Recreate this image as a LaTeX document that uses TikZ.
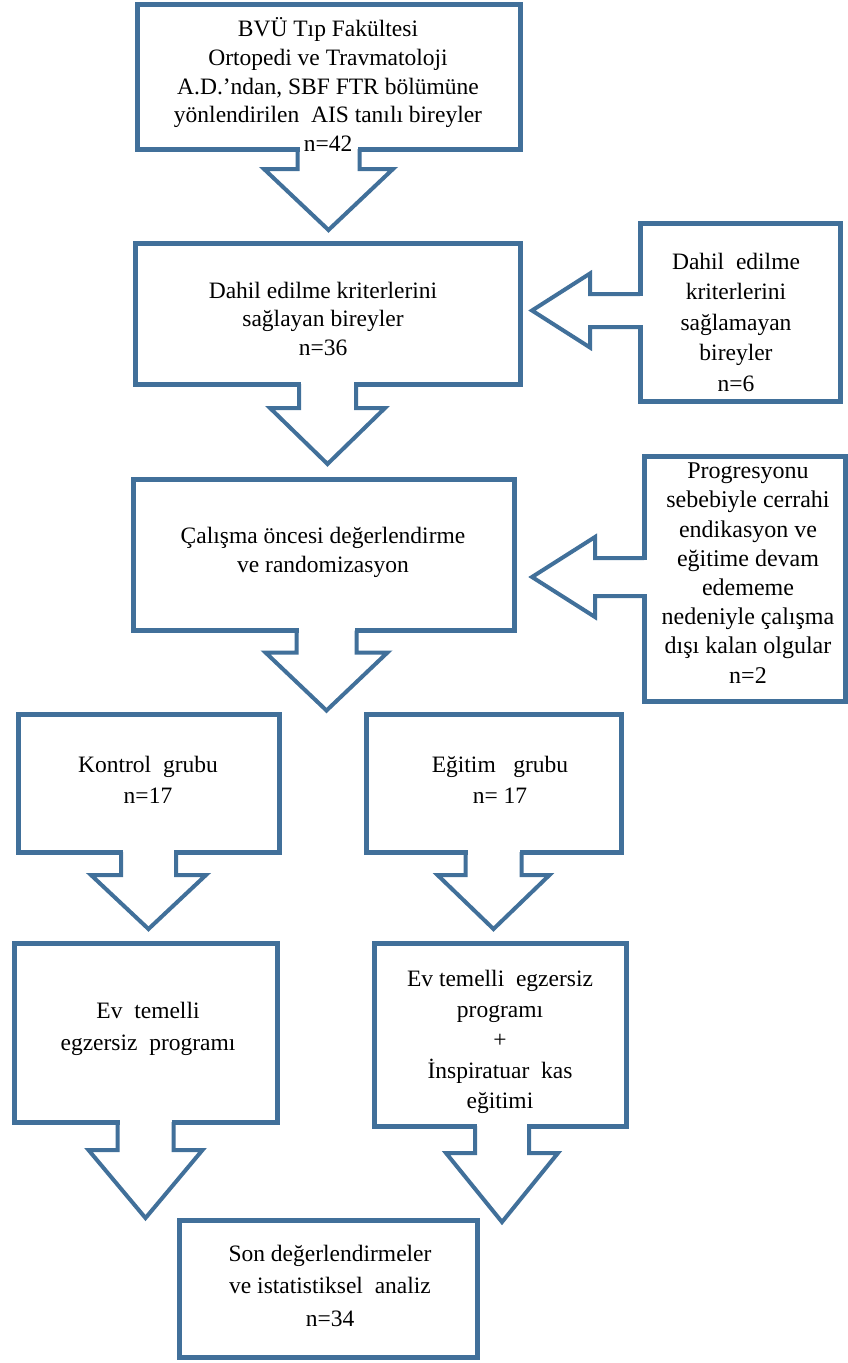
\documentclass[tikz,border=0pt]{standalone}
\usepackage{fontspec}
\setmainfont{Liberation Serif}
\usetikzlibrary{calc}
\definecolor{bcol}{RGB}{65,112,154}
\tikzset{
  boxshape/.style={draw=bcol, line width=5pt, rectangle, inner sep=0pt, outer sep=0pt},
  txt/.style={align=center, inner sep=0pt, font=\fontsize{23.5}{29}\selectfont},
  arr/.style={draw=bcol, line width=4pt, line join=miter},
}
% down block arrow: #1 node, #2 shaft half width, #3 head half width, #4 head top offset, #5 tip offset, #6 x shift
\newcommand\dnarr[6]{%
  \fill[white] ($(#1.south)+(#6-#2+2,-4)$) rectangle ($(#1.south)+(#6+#2-2,4)$);
  \draw[arr] ($(#1.south)+(#6-#2,0)$) -- ($(#1.south)+(#6-#2,#4)$) -- ($(#1.south)+(#6-#3,#4)$)
    -- ($(#1.south)+(#6,#5)$) -- ($(#1.south)+(#6+#3,#4)$) -- ($(#1.south)+(#6+#2,#4)$) -- ($(#1.south)+(#6+#2,0)$);
}
% left block arrow: #1 node, #2 shaft half width, #3 head half width, #4 head back offset, #5 tip offset, #6 y shift
\newcommand\ltarr[6]{%
  \fill[white] ($(#1.west)+(-4,#6-#2+2)$) rectangle ($(#1.west)+(4,#6+#2-2)$);
  \draw[arr] ($(#1.west)+(0,#6-#2)$) -- ($(#1.west)+(#4,#6-#2)$) -- ($(#1.west)+(#4,#6-#3)$)
    -- ($(#1.west)+(#5,#6)$) -- ($(#1.west)+(#4,#6+#3)$) -- ($(#1.west)+(#4,#6+#2)$) -- ($(#1.west)+(0,#6+#2)$);
}
\begin{document}
\begin{tikzpicture}[x=1pt,y=-1pt]
\useasboundingbox[fill=white] (0,0) rectangle (847,1363);
% boxes
\node[boxshape, minimum width=383pt, minimum height=145pt] (b1) at (328.5,76.5) {};
\node[boxshape, minimum width=385pt, minimum height=141pt] (b2) at (327.5,313.5) {};
\node[boxshape, minimum width=200pt, minimum height=178pt] (s1) at (740,312) {};
\node[boxshape, minimum width=381pt, minimum height=151pt] (b3) at (323.5,555) {};
\node[boxshape, minimum width=201pt, minimum height=245pt] (s2) at (744.5,578.5) {};
\node[boxshape, minimum width=261pt, minimum height=138pt] (k) at (148.5,783) {};
\node[boxshape, minimum width=255pt, minimum height=138pt] (e) at (493.5,783) {};
\node[boxshape, minimum width=263pt, minimum height=179pt] (p1) at (145.5,1032.5) {};
\node[boxshape, minimum width=252pt, minimum height=183pt] (p2) at (500,1034.5) {};
\node[boxshape, minimum width=298pt, minimum height=137pt] (f) at (328,1288.5) {};
% arrows
\dnarr{b1}{31}{64.5}{20}{81}{0}
\dnarr{b2}{28.5}{57.5}{24}{80}{0}
\dnarr{b3}{30}{61}{22}{80}{3}
\dnarr{k}{27.5}{57.5}{23}{77}{0}
\dnarr{e}{28}{56}{23}{77}{0}
\dnarr{p1}{28}{57}{28}{96}{0}
\dnarr{p2}{27}{56}{27}{96}{2}
\ltarr{s1}{16.5}{37}{-50}{-108}{-1.5}
\ltarr{s2}{19}{40}{-49}{-112}{-1.5}
% texts
\node[txt, font=\fontsize{23.5}{28.75}\selectfont] (t1) at (328,84.5) {BVÜ Tıp Fakültesi\\Ortopedi ve Travmatoloji\\A.D.’ndan, SBF FTR bölümüne\\yönlendirilen\ \ AIS tanılı bireyler\\n=42};
\node[txt, font=\fontsize{23.5}{28.5}\selectfont] (t2) at (323,318.5) {Dahil edilme kriterlerini\\sağlayan bireyler\\n=36};
\node[txt, font=\fontsize{23.5}{30.5}\selectfont] (ts1) at (736,322) {Dahil\ \ edilme\\kriterlerini\\sağlamayan\\bireyler\\n=6};
\node[txt] (t3) at (323,552.5) {Çalışma öncesi değerlendirme\\ve randomizasyon};
\node[txt, font=\fontsize{24}{29.2}\selectfont] (ts2) at (748,573) {Progresyonu\\sebebiyle cerrahi\\endikasyon ve\\eğitime devam\\edememe\\nedeniyle çalışma\\dışı kalan olgular\\n=2};
\node[txt, font=\fontsize{23.5}{31}\selectfont] (tk) at (148,779.5) {Kontrol\ \ grubu\\n=17};
\node[txt, font=\fontsize{23.5}{31}\selectfont] (te) at (500,779.5) {Eğitim\ \ \ grubu\\n= 17};
\node[txt, font=\fontsize{23.5}{32}\selectfont] (tp1) at (148,1029) {Ev\ \ temelli\\egzersiz\ \ programı};
\node[txt, font=\fontsize{23.5}{30.5}\selectfont] (tp2) at (500,1042) {Ev temelli\ \ egzersiz\\programı\\+\\İnspiratuar\ \ kas\\eğitimi};
\node[txt, font=\fontsize{23.5}{32.5}\selectfont] (tf) at (330,1285.5) {Son değerlendirmeler\\ve istatistiksel\ \ analiz\\n=34};
\end{tikzpicture}
\end{document}
